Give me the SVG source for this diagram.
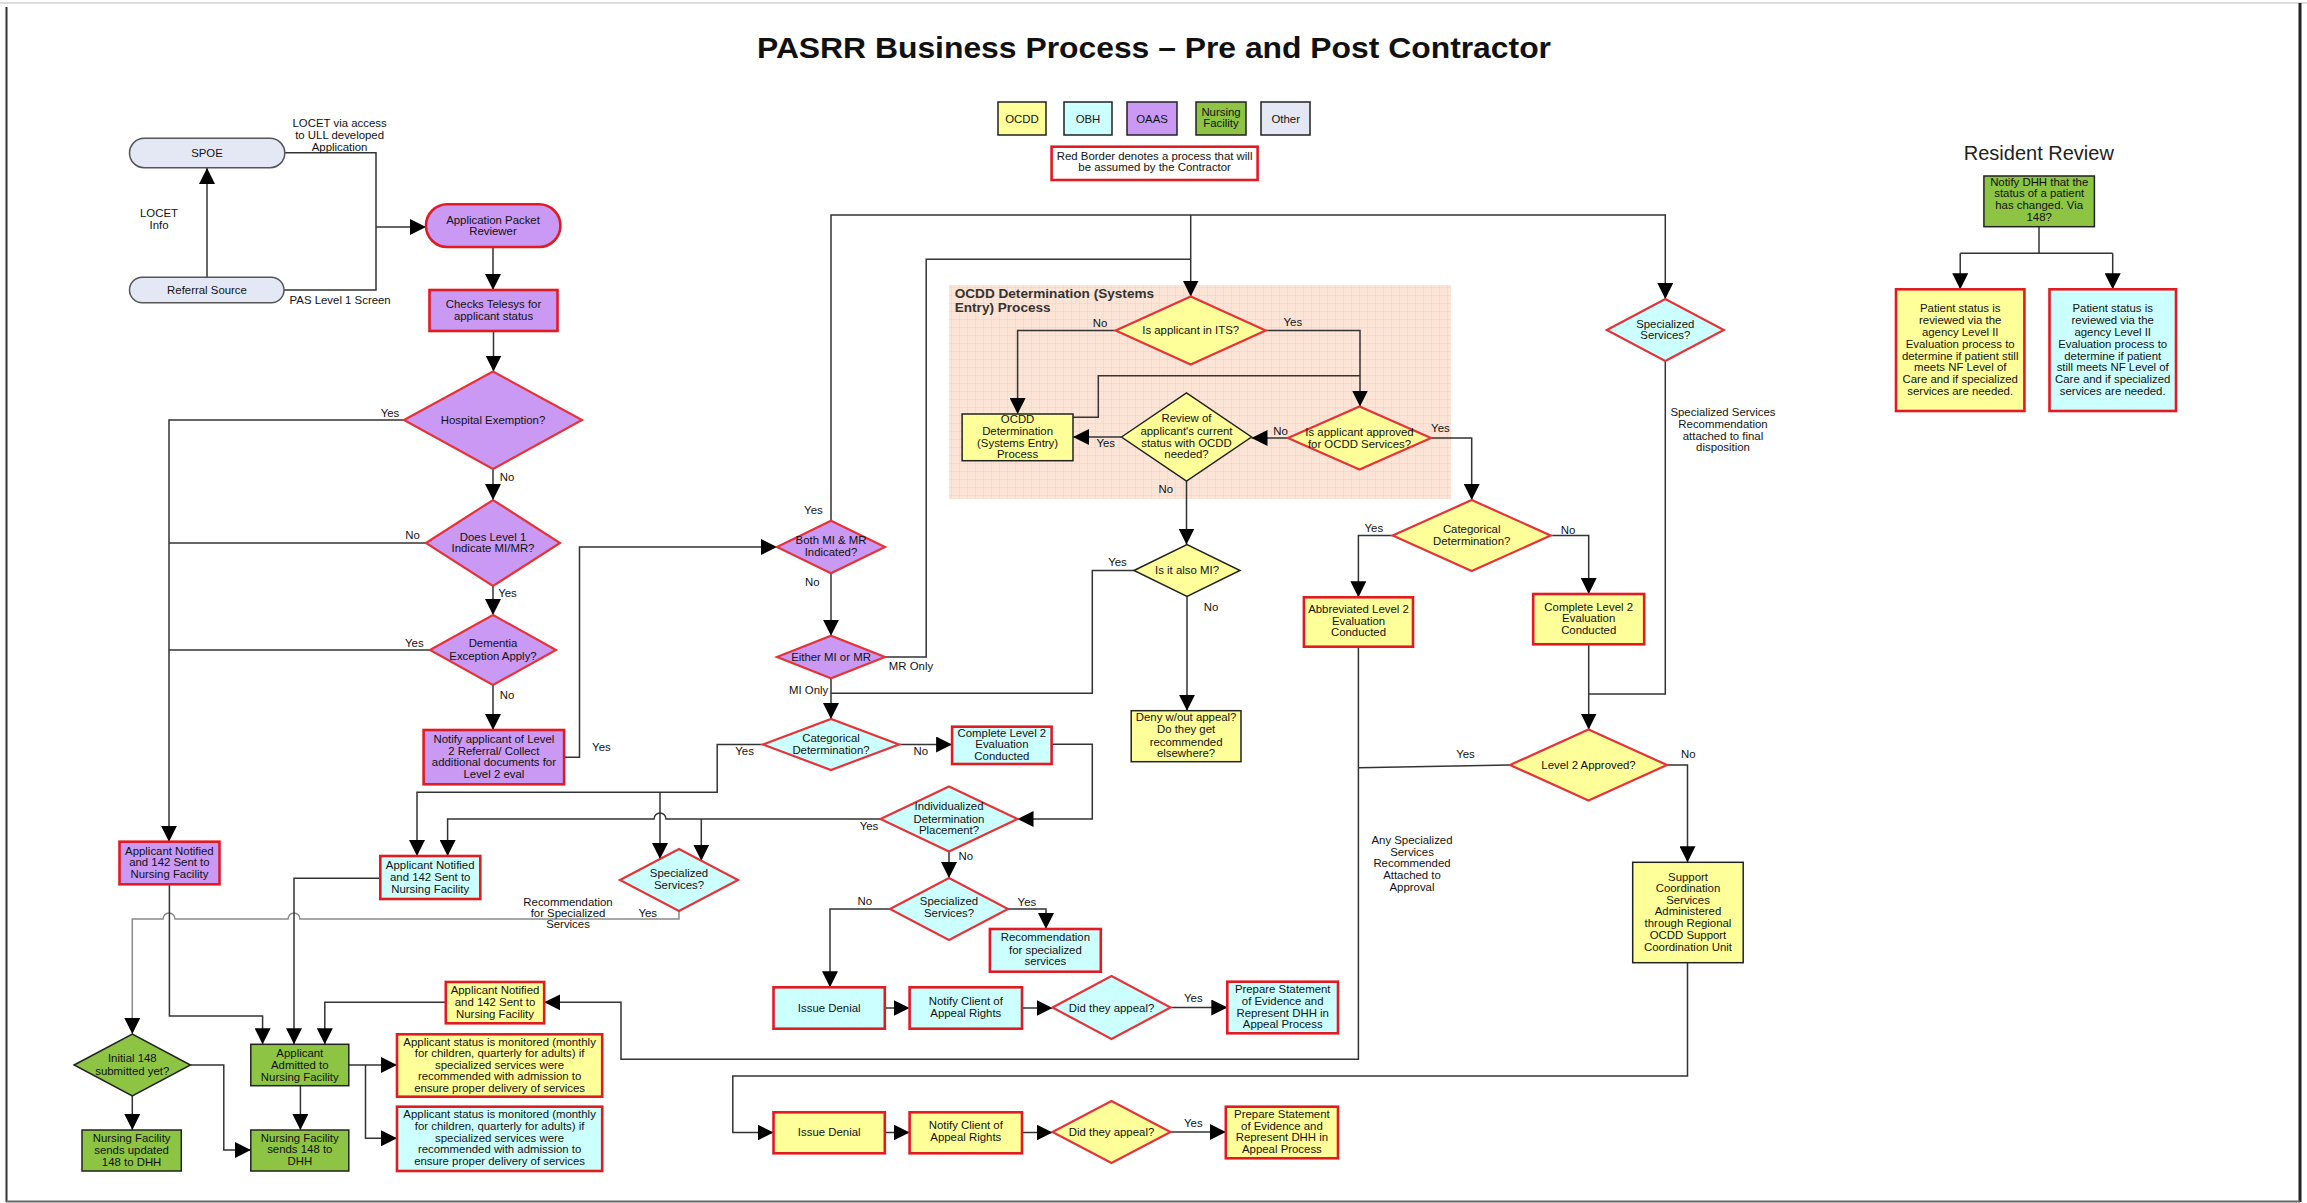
<svg xmlns="http://www.w3.org/2000/svg" width="2307" height="1203" viewBox="0 0 2307 1203">
<defs>
<style>
.t{font-family:"Liberation Sans",Arial,Helvetica,sans-serif;font-size:11.4px;fill:#111;text-anchor:middle}
.ts{font-family:"Liberation Sans",Arial,Helvetica,sans-serif;font-size:11.4px;fill:#111;text-anchor:start}
.title{font-family:"Liberation Sans",Arial,Helvetica,sans-serif;font-size:30px;font-weight:bold;fill:#111;text-anchor:middle}
.sub{font-family:"Liberation Sans",Arial,Helvetica,sans-serif;font-size:13.6px;font-weight:bold;fill:#333}
.rr{font-family:"Liberation Sans",Arial,Helvetica,sans-serif;font-size:20px;fill:#222;text-anchor:middle}
.oaas{fill:#C999F3}.obh{fill:#CCFFFF}.ocdd{fill:#FFFF99}.nf{fill:#8DC444}.oth{fill:#E4E8F4}.wh{fill:#fff}
.rb{stroke:#E21B23;stroke-width:2.6}
.rd{stroke:#E5333A;stroke-width:2.2}
.bb{stroke:#222;stroke-width:1.5}
.gb{stroke:#555;stroke-width:1.5}
.c{fill:none;stroke:#333;stroke-width:1.5}
.cg{fill:none;stroke:#8a8a8a;stroke-width:1.5}
.a{marker-end:url(#ah)}
</style>
<marker id="ah" viewBox="0 0 16 16" refX="16" refY="8" markerWidth="16" markerHeight="16" markerUnits="userSpaceOnUse" orient="auto"><path d="M0,0 L16,8 L0,16 z" fill="#000"/></marker>
<pattern id="grid" width="8" height="8" patternUnits="userSpaceOnUse"><rect width="8" height="8" fill="#FCE5D6"/><path d="M7.7,0 V8 M0,7.7 H8" stroke="#F1CDB7" stroke-width="0.6"/></pattern>
</defs>
<rect width="2307" height="1203" fill="#fff"/>
<g id="frame">
<line x1="0" y1="3" x2="2307" y2="3" stroke="#d0d0d0" stroke-width="1.5"/>
<line x1="6.5" y1="7" x2="6.5" y2="1202" stroke="#333" stroke-width="2"/>
<line x1="2300" y1="3" x2="2300" y2="1202" stroke="#222" stroke-width="3"/>
<line x1="6" y1="1201.5" x2="2300" y2="1201.5" stroke="#666" stroke-width="2"/>
</g>
<text class="title" x="1154" y="58" textLength="794" lengthAdjust="spacingAndGlyphs">PASRR Business Process – Pre and Post Contractor</text>

<g id="legend">
<rect class="ocdd bb" x="998" y="102" width="48" height="33"/><text class="t" x="1022" y="122.5">OCDD</text>
<rect class="obh bb" x="1064" y="102" width="48" height="33"/><text class="t" x="1088" y="122.5">OBH</text>
<rect class="oaas bb" x="1127" y="102" width="50" height="33"/><text class="t" x="1152" y="122.5">OAAS</text>
<rect class="nf bb" x="1196" y="102" width="50" height="33"/><text class="t" x="1221" y="115.7">Nursing</text><text class="t" x="1221" y="127.3">Facility</text>
<rect class="oth bb" x="1261" y="102" width="49" height="33"/><text class="t" x="1285.7" y="122.5">Other</text>
</g>
<g id="note">
<rect class="wh rb" x="1051.6" y="146.7" width="206" height="33.3"/>
<text class="t" x="1154.6" y="160">Red Border denotes a process that will</text>
<text class="t" x="1154.6" y="171.3">be assumed by the Contractor</text>
</g>

<g id="ocdd-region">
<rect x="949" y="285" width="502" height="214" fill="url(#grid)"/>
<text class="sub" x="954.7" y="298.2">OCDD Determination (Systems</text>
<text class="sub" x="954.7" y="311.6">Entry) Process</text>
</g>

<g id="connectors">
<path class="c a" d="M207,277.3 V168"/>
<path class="c" d="M284.8,152.7 H376 V290 H284"/>
<path class="c a" d="M376,227 H426"/>
<path class="c a" d="M493,247 V290"/>
<path class="c a" d="M493.5,331 V371.5"/>
<path class="c a" d="M404,420 H169 V841.7"/>
<path class="c" d="M426,543 H169"/>
<path class="c" d="M430,650 H169"/>
<path class="c a" d="M493,469 V500"/>
<path class="c a" d="M493,586 V615"/>
<path class="c a" d="M493,685 V730"/>
<path class="c a" d="M564.1,757.3 H579.5 V547 H777"/>
<path class="c a" d="M831,520.7 V215 H1665.3 V299"/>
<path class="c a" d="M1190.7,215 V296.5"/>
<path class="c" d="M885,657 H926.2 V259.3 H1190.7"/>
<path class="c a" d="M831,573.3 V635.7"/>
<path class="c a" d="M831,678.3 V719"/>
<path class="c" d="M1134,570.5 H1092.3 V693.3 H831"/>
<path class="c a" d="M899,744.5 H952.1"/>
<path class="c a" d="M1051.6,744.3 H1092.3 V819 H1017.5"/>
<path class="c a" d="M763,744.5 H717.2 V792.3 H417 V856"/>
<path class="c a" d="M660,792.3 V859"/>
<path class="c a" d="M880.5,819 H666 A6,6 0 0 0 654,819 H447.6 V856"/>
<path class="c a" d="M701.3,819 V860.7"/>
<path class="cg a" d="M679,911 V919 H300 A6,6 0 0 0 288,919 H175 A6,6 0 0 0 163,919 H132.3 V1034"/>
<path class="c a" d="M949,851.5 V878"/>
<path class="c a" d="M890,909 H830 V987.3"/>
<path class="c a" d="M1008,909 H1046 V929"/>
<path class="c a" d="M884.8,1008 H909.6"/>
<path class="c a" d="M1022,1008 H1052.5"/>
<path class="c a" d="M1170.5,1007.5 H1227.3"/>
<path class="c a" d="M884.8,1132.5 H909.6"/>
<path class="c a" d="M1022,1132.5 H1052.5"/>
<path class="c a" d="M1170.5,1132 H1225.8"/>
<path class="c a" d="M169.4,884.3 V1016 H262.6 V1044.3"/>
<path class="c a" d="M380.3,878.3 H294 V1044.3"/>
<path class="c a" d="M445.8,1002.3 H324.8 V1044.3"/>
<path class="c a" d="M300.4,1085.7 V1130"/>
<path class="c a" d="M348.8,1065 H397"/>
<path class="c a" d="M365.5,1065 V1138.3 H397"/>
<path class="c a" d="M132.3,1096 V1130"/>
<path class="c a" d="M190.5,1065 H223.8 V1150 H250.8"/>
<path class="c a" d="M1115.7,330.5 H1017.6 V414"/>
<path class="c a" d="M1265.7,330.5 H1360 V406.5"/>
<path class="c" d="M1360,375.7 H1098.3 V417.3 H1073"/>
<path class="c a" d="M1121.5,437 H1073"/>
<path class="c a" d="M1288,438 H1251.5"/>
<path class="c a" d="M1431,438 H1471.7 V500"/>
<path class="c a" d="M1186.5,481 V544.5"/>
<path class="c a" d="M1187,596.5 V710.7"/>
<path class="c a" d="M1392.7,535.5 H1358.4 V597.3"/>
<path class="c a" d="M1550.7,535.5 H1588.7 V594"/>
<path class="c a" d="M1358.4,646.7 V1059.3 H621 V1002.3 H544.2"/>
<path class="c" d="M1510,765 L1358.4,767.7"/>
<path class="c a" d="M1588.7,644.3 V729.5"/>
<path class="c" d="M1665.3,361 V694 H1588.7"/>
<path class="c a" d="M1667,765 H1687.5 V862.3"/>
<path class="c a" d="M1687.5,962.7 V1076 H732.8 V1132.5 H773.5"/>
<path class="c" d="M2039,226.7 V253.3 M1960.2,253.3 H2112.7"/>
<path class="c a" d="M1960.2,253.3 V289.3"/>
<path class="c a" d="M2112.7,253.3 V289.3"/>
<g id="edge-labels">
<text class="t" x="159" y="217">LOCET</text><text class="t" x="159" y="229">Info</text>
<text class="t" x="339.6" y="127.3">LOCET via access</text><text class="t" x="339.6" y="139.3">to ULL developed</text><text class="t" x="339.6" y="151.3">Application</text>
<text class="ts" x="289.6" y="304">PAS Level 1 Screen</text>
<text class="t" x="390" y="417">Yes</text>
<text class="t" x="507" y="481">No</text>
<text class="t" x="412.5" y="539">No</text>
<text class="t" x="507.5" y="597">Yes</text>
<text class="t" x="414.3" y="647">Yes</text>
<text class="t" x="507" y="699">No</text>
<text class="t" x="601.4" y="750.7">Yes</text>
<text class="t" x="813.4" y="514">Yes</text>
<text class="t" x="812.3" y="585.7">No</text>
<text class="t" x="911" y="669.7">MR Only</text>
<text class="t" x="808.6" y="694">MI Only</text>
<text class="t" x="744.6" y="754.7">Yes</text>
<text class="t" x="920.7" y="754.7">No</text>
<text class="t" x="869" y="830">Yes</text>
<text class="t" x="965.8" y="859.7">No</text>
<text class="t" x="647.7" y="916.7">Yes</text>
<text class="t" x="568" y="906">Recommendation</text><text class="t" x="568" y="917">for Specialized</text><text class="t" x="568" y="928">Services</text>
<text class="t" x="864.8" y="904.7">No</text>
<text class="t" x="1026.9" y="906">Yes</text>
<text class="t" x="1193.3" y="1002.3">Yes</text>
<text class="t" x="1193.3" y="1126.7">Yes</text>
<text class="t" x="1100" y="326.7">No</text>
<text class="t" x="1292.8" y="325.7">Yes</text>
<text class="t" x="1105.7" y="447.3">Yes</text>
<text class="t" x="1280.6" y="434.7">No</text>
<text class="t" x="1440.4" y="432.3">Yes</text>
<text class="t" x="1165.9" y="493">No</text>
<text class="t" x="1117.5" y="566.3">Yes</text>
<text class="t" x="1211" y="611.3">No</text>
<text class="t" x="1373.8" y="532.3">Yes</text>
<text class="t" x="1568" y="534">No</text>
<text class="t" x="1465.5" y="758.3">Yes</text>
<text class="t" x="1688.3" y="758.3">No</text>
<text class="t" x="1412" y="844">Any Specialized</text><text class="t" x="1412" y="855.7">Services</text><text class="t" x="1412" y="867.3">Recommended</text><text class="t" x="1412" y="879">Attached to</text><text class="t" x="1412" y="890.7">Approval</text>
<text class="t" x="1723" y="416.3">Specialized Services</text><text class="t" x="1723" y="428">Recommendation</text><text class="t" x="1723" y="439.7">attached to final</text><text class="t" x="1723" y="451.3">disposition</text>
</g>
</g>

<g id="spoe"><rect class="oth gb" x="129.5" y="138.3" width="155.3" height="29.4" rx="14.7"/><text class="t" x="207" y="157">SPOE</text></g>
<g id="referral-source"><rect class="oth gb" x="129.5" y="277.3" width="154.5" height="25.4" rx="12.7"/><text class="t" x="207" y="293.5">Referral Source</text></g>
<g id="app-packet-reviewer"><rect class="oaas rb" x="426" y="204.3" width="134.4" height="42.7" rx="21.3"/><text class="t" x="493" y="224">Application Packet</text><text class="t" x="493" y="234.7">Reviewer</text></g>
<g id="checks-telesys"><rect class="oaas rb" x="429.5" y="290" width="128" height="41"/><text class="t" x="493.5" y="308">Checks Telesys for</text><text class="t" x="493.5" y="320">applicant status</text></g>
<g id="hospital-exemption"><polygon class="oaas rd" points="404,420 493,371.5 582,420 493,469"/><text class="t" x="493" y="424">Hospital Exemption?</text></g>
<g id="level1-mimr"><polygon class="oaas rd" points="426,543 493,500 560,543 493,586"/><text class="t" x="493" y="540.7">Does Level 1</text><text class="t" x="493" y="552.3">Indicate MI/MR?</text></g>
<g id="dementia"><polygon class="oaas rd" points="430,650 493,615 556,650 493,685"/><text class="t" x="493" y="647.3">Dementia</text><text class="t" x="493" y="660">Exception Apply?</text></g>
<g id="notify-level2"><rect class="oaas rb" x="423.6" y="730" width="140.5" height="54.3"/><text class="t" x="493.9" y="743.3">Notify applicant of Level</text><text class="t" x="493.9" y="755">2 Referral/ Collect</text><text class="t" x="493.9" y="766.3">additional documents for</text><text class="t" x="493.9" y="778">Level 2 eval</text></g>
<g id="both-mi-mr"><polygon class="oaas rd" points="777,547 831,520.7 885,547 831,573.3"/><text class="t" x="831" y="544">Both MI &amp; MR</text><text class="t" x="831" y="555.7">Indicated?</text></g>
<g id="either-mi-mr"><polygon class="oaas rd" points="777,657 831,635.7 885,657 831,678.3"/><text class="t" x="831" y="661">Either MI or MR</text></g>
<g id="categorical-obh"><polygon class="obh rd" points="763,744.5 831,719 899,744.5 831,770"/><text class="t" x="831" y="741.7">Categorical</text><text class="t" x="831" y="754">Determination?</text></g>
<g id="complete-l2-obh"><rect class="obh rb" x="952.1" y="726.7" width="99.5" height="37.3"/><text class="t" x="1001.9" y="736.7">Complete Level 2</text><text class="t" x="1001.9" y="748.3">Evaluation</text><text class="t" x="1001.9" y="760">Conducted</text></g>
<g id="individualized"><polygon class="obh rd" points="880.5,819 949,786.5 1017.5,819 949,851.5"/><text class="t" x="949" y="810">Individualized</text><text class="t" x="949" y="822.7">Determination</text><text class="t" x="949" y="834">Placement?</text></g>
<g id="spec-services-left"><polygon class="obh rd" points="620,880 679,849 738,880 679,911"/><text class="t" x="679" y="876.7">Specialized</text><text class="t" x="679" y="889">Services?</text></g>
<g id="spec-services-obh"><polygon class="obh rd" points="890,909 949,878 1008,909 949,940"/><text class="t" x="949" y="905">Specialized</text><text class="t" x="949" y="917">Services?</text></g>
<g id="recommendation"><rect class="obh rb" x="989.9" y="929" width="110.9" height="42.7"/><text class="t" x="1045.4" y="941.3">Recommendation</text><text class="t" x="1045.4" y="953.7">for specialized</text><text class="t" x="1045.4" y="964.7">services</text></g>
<g id="issue-denial-obh"><rect class="obh rb" x="773.5" y="987.3" width="111.3" height="41.4"/><text class="t" x="829.2" y="1011.7">Issue Denial</text></g>
<g id="notify-client-obh"><rect class="obh rb" x="909.6" y="987.3" width="112.4" height="41.4"/><text class="t" x="965.8" y="1004.7">Notify Client of</text><text class="t" x="965.8" y="1016.7">Appeal Rights</text></g>
<g id="appeal-obh"><polygon class="obh rd" points="1052.5,1007.5 1111.5,976 1170.5,1007.5 1111.5,1039"/><text class="t" x="1111.5" y="1011.5">Did they appeal?</text></g>
<g id="prepare-obh"><rect class="obh rb" x="1227.3" y="981.7" width="110.7" height="51.6"/><text class="t" x="1282.7" y="993">Prepare Statement</text><text class="t" x="1282.7" y="1005">of Evidence and</text><text class="t" x="1282.7" y="1016.7">Represent DHH in</text><text class="t" x="1282.7" y="1028.3">Appeal Process</text></g>
<g id="issue-denial-ocdd"><rect class="ocdd rb" x="773.5" y="1112.3" width="111.3" height="41"/><text class="t" x="829.2" y="1136">Issue Denial</text></g>
<g id="notify-client-ocdd"><rect class="ocdd rb" x="909.6" y="1112.3" width="112.4" height="41"/><text class="t" x="965.8" y="1129">Notify Client of</text><text class="t" x="965.8" y="1140.7">Appeal Rights</text></g>
<g id="appeal-ocdd"><polygon class="ocdd rd" points="1052.5,1132 1111.5,1101 1170.5,1132 1111.5,1163"/><text class="t" x="1111.5" y="1136">Did they appeal?</text></g>
<g id="prepare-ocdd"><rect class="ocdd rb" x="1225.8" y="1106.7" width="112.2" height="51.6"/><text class="t" x="1281.9" y="1118">Prepare Statement</text><text class="t" x="1281.9" y="1129.7">of Evidence and</text><text class="t" x="1281.9" y="1141">Represent DHH in</text><text class="t" x="1281.9" y="1153">Appeal Process</text></g>
<g id="notified-oaas"><rect class="oaas rb" x="119.5" y="841.7" width="100" height="42.6"/><text class="t" x="169.4" y="854.7">Applicant Notified</text><text class="t" x="169.4" y="866">and 142 Sent to</text><text class="t" x="169.4" y="877.7">Nursing Facility</text></g>
<g id="notified-obh"><rect class="obh rb" x="380.3" y="856" width="100" height="43"/><text class="t" x="430.2" y="869">Applicant Notified</text><text class="t" x="430.2" y="880.7">and 142 Sent to</text><text class="t" x="430.2" y="893">Nursing Facility</text></g>
<g id="notified-ocdd"><rect class="ocdd rb" x="445.8" y="982" width="98.4" height="41.3"/><text class="t" x="495" y="993.7">Applicant Notified</text><text class="t" x="495" y="1006">and 142 Sent to</text><text class="t" x="495" y="1018">Nursing Facility</text></g>
<g id="initial-148"><polygon class="nf bb" points="74.1,1065 132.3,1034 190.5,1065 132.3,1096"/><text class="t" x="132.3" y="1062.3">Initial 148</text><text class="t" x="132.3" y="1074.7">submitted yet?</text></g>
<g id="admitted"><rect class="nf bb" x="250.8" y="1044.3" width="98" height="41.4"/><text class="t" x="299.8" y="1057.3">Applicant</text><text class="t" x="299.8" y="1069">Admitted to</text><text class="t" x="299.8" y="1081">Nursing Facility</text></g>
<g id="nf-updated-148"><rect class="nf bb" x="82" y="1130" width="99.3" height="41"/><text class="t" x="131.6" y="1141.7">Nursing Facility</text><text class="t" x="131.6" y="1154">sends updated</text><text class="t" x="131.6" y="1165.7">148 to DHH</text></g>
<g id="nf-sends-148"><rect class="nf bb" x="250.8" y="1130" width="98" height="41"/><text class="t" x="299.8" y="1141.7">Nursing Facility</text><text class="t" x="299.8" y="1152.7">sends 148 to</text><text class="t" x="299.8" y="1165">DHH</text></g>
<g id="status-ocdd"><rect class="ocdd rb" x="397" y="1034.3" width="205.2" height="62.4"/><text class="t" x="499.6" y="1046.3">Applicant status is monitored (monthly</text><text class="t" x="499.6" y="1057">for children, quarterly for adults) if</text><text class="t" x="499.6" y="1068.7">specialized services were</text><text class="t" x="499.6" y="1080.3">recommended with admission to</text><text class="t" x="499.6" y="1092">ensure proper delivery of services</text></g>
<g id="status-obh"><rect class="obh rb" x="397" y="1106.7" width="205.2" height="64.3"/><text class="t" x="499.6" y="1118">Applicant status is monitored (monthly</text><text class="t" x="499.6" y="1130">for children, quarterly for adults) if</text><text class="t" x="499.6" y="1141.7">specialized services were</text><text class="t" x="499.6" y="1153">recommended with admission to</text><text class="t" x="499.6" y="1165">ensure proper delivery of services</text></g>
<g id="in-its"><polygon class="ocdd rd" points="1115.7,330.5 1190.7,296.5 1265.7,330.5 1190.7,364.5"/><text class="t" x="1190.7" y="334">Is applicant in ITS?</text></g>
<g id="ocdd-determination"><rect class="ocdd bb" x="962.1" y="414" width="110.9" height="46.7"/><text class="t" x="1017.6" y="423.3">OCDD</text><text class="t" x="1017.6" y="434.7">Determination</text><text class="t" x="1017.6" y="447.3">(Systems Entry)</text><text class="t" x="1017.6" y="458.3">Process</text></g>
<g id="review-status"><polygon class="ocdd bb" points="1121.5,437 1186.5,393 1251.5,437 1186.5,481"/><text class="t" x="1186.5" y="422.3">Review of</text><text class="t" x="1186.5" y="434.7">applicant's current</text><text class="t" x="1186.5" y="447.3">status with OCDD</text><text class="t" x="1186.5" y="458.3">needed?</text></g>
<g id="approved-ocdd"><polygon class="ocdd rd" points="1288,438 1359.5,406.5 1431,438 1359.5,469.5"/><text class="t" x="1359.5" y="436.3">Is applicant approved</text><text class="t" x="1359.5" y="447.7">for OCDD Services?</text></g>
<g id="also-mi"><polygon class="ocdd bb" points="1134,570.5 1187,544.5 1240,570.5 1187,596.5"/><text class="t" x="1187" y="574">Is it also MI?</text></g>
<g id="deny"><rect class="ocdd bb" x="1131.2" y="710.7" width="109.8" height="51"/><text class="t" x="1186.1" y="720.7">Deny w/out appeal?</text><text class="t" x="1186.1" y="733">Do they get</text><text class="t" x="1186.1" y="745.7">recommended</text><text class="t" x="1186.1" y="757">elsewhere?</text></g>
<g id="categorical-ocdd"><polygon class="ocdd rd" points="1392.7,535.5 1471.7,500 1550.7,535.5 1471.7,571"/><text class="t" x="1471.7" y="533">Categorical</text><text class="t" x="1471.7" y="544.7">Determination?</text></g>
<g id="abbreviated-l2"><rect class="ocdd rb" x="1303.9" y="597.3" width="109.1" height="49.4"/><text class="t" x="1358.5" y="613.3">Abbreviated Level 2</text><text class="t" x="1358.5" y="625">Evaluation</text><text class="t" x="1358.5" y="636.3">Conducted</text></g>
<g id="complete-l2-ocdd"><rect class="ocdd rb" x="1533.2" y="594" width="111" height="50.3"/><text class="t" x="1588.7" y="610.7">Complete Level 2</text><text class="t" x="1588.7" y="622.3">Evaluation</text><text class="t" x="1588.7" y="633.7">Conducted</text></g>
<g id="level2-approved"><polygon class="ocdd rd" points="1510,765 1588.5,729.5 1667,765 1588.5,800.5"/><text class="t" x="1588.5" y="769">Level 2 Approved?</text></g>
<g id="spec-services-top"><polygon class="obh rd" points="1606.8,330 1665.3,299 1723.8,330 1665.3,361"/><text class="t" x="1665.3" y="328">Specialized</text><text class="t" x="1665.3" y="339">Services?</text></g>
<g id="support-coordination"><rect class="ocdd bb" x="1632.7" y="862.3" width="110.5" height="100.4"/><text class="t" x="1688" y="880.7">Support</text><text class="t" x="1688" y="892">Coordination</text><text class="t" x="1688" y="903.7">Services</text><text class="t" x="1688" y="915">Administered</text><text class="t" x="1688" y="927">through Regional</text><text class="t" x="1688" y="939">OCDD Support</text><text class="t" x="1688" y="950.7">Coordination Unit</text></g>

<g id="resident-review">
<text class="rr" x="2038.8" y="160">Resident Review</text>
</g>
<g id="notify-dhh"><rect class="nf bb" x="1983.9" y="176" width="110.5" height="50.7"/><text class="t" x="2039.2" y="186">Notify DHH that the</text><text class="t" x="2039.2" y="197.3">status of a patient</text><text class="t" x="2039.2" y="209">has changed.  Via</text><text class="t" x="2039.2" y="220.7">148?</text></g>
<g id="patient-status-ocdd"><rect class="ocdd rb" x="1896" y="289.3" width="128.4" height="121.7"/><text class="t" x="1960.2" y="312.3">Patient status is</text><text class="t" x="1960.2" y="324.1">reviewed via the</text><text class="t" x="1960.2" y="335.9">agency Level II</text><text class="t" x="1960.2" y="347.7">Evaluation process to</text><text class="t" x="1960.2" y="359.5">determine if patient still</text><text class="t" x="1960.2" y="371.3">meets NF Level of</text><text class="t" x="1960.2" y="383.1">Care and if specialized</text><text class="t" x="1960.2" y="394.9">services are needed.</text></g>
<g id="patient-status-obh"><rect class="obh rb" x="2049.5" y="289.3" width="126.5" height="121.7"/><text class="t" x="2112.7" y="312.3">Patient status is</text><text class="t" x="2112.7" y="324.1">reviewed via the</text><text class="t" x="2112.7" y="335.9">agency Level II</text><text class="t" x="2112.7" y="347.7">Evaluation process to</text><text class="t" x="2112.7" y="359.5">determine if patient</text><text class="t" x="2112.7" y="371.3">still meets NF Level of</text><text class="t" x="2112.7" y="383.1">Care and if specialized</text><text class="t" x="2112.7" y="394.9">services are needed.</text></g>
</svg>
